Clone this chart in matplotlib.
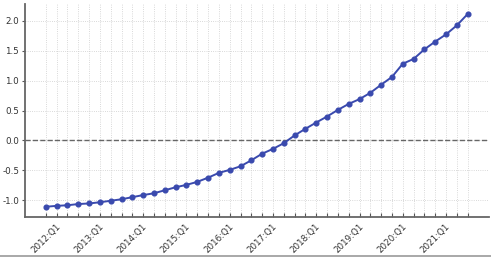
import matplotlib
matplotlib.use("Agg")
import matplotlib.pyplot as plt
from matplotlib.lines import Line2D

plt.rcParams["axes.unicode_minus"] = False

# kwartalen 2012Q1 - 2021Q4
years = list(range(2012, 2022))
quarters = [f"{y}:Q{q}" for y in years for q in range(1, 5)]

values = [-1.105, -1.09, -1.08, -1.06,
          -1.05, -1.03, -1.005, -0.98,
          -0.945, -0.91, -0.88, -0.83,
          -0.78, -0.74, -0.69, -0.62,
          -0.54, -0.49, -0.43, -0.33,
          -0.22, -0.14, -0.045, 0.085,
          0.195, 0.30, 0.40, 0.51,
          0.61, 0.69, 0.795, 0.93,
          1.06, 1.28, 1.36, 1.52,
          1.65, 1.77, 1.92, 2.11]

x = list(range(len(quarters)))

fig = plt.figure(figsize=(4.91, 2.57), dpi=100)
ax = fig.add_axes([0.0503, 0.157, 0.9452, 0.826])

ax.plot(x, values, color="#3a4aae", lw=1.4, marker="o", ms=3.4, zorder=3)
ax.axhline(0, color="#666666", lw=1.0, ls="--", zorder=2)

# ticks: elk kwartaal, label alleen bij Q1
ax.set_xticks(x)
ax.set_xticklabels([q if q.endswith("Q1") else "" for q in quarters],
                   rotation=45, ha="center", fontsize=6.3, color="#333333")
ax.tick_params(axis="x", direction="in", length=3, color="#555555", pad=4)
ax.tick_params(axis="y", direction="out", length=2.5, color="#555555",
               labelsize=6.3, labelcolor="#333333", pad=1.5)
ax.set_yticks([-1.0, -0.5, 0.0, 0.5, 1.0, 1.5, 2.0])

ax.grid(True, color="#cccccc", lw=0.6, ls=":")
ax.spines["top"].set_visible(False)
ax.spines["right"].set_visible(False)
for s in ["left", "bottom"]:
    ax.spines[s].set_color("#666666")
    ax.spines[s].set_linewidth(1.3)

ax.set_ylim(-1.27, 2.27)

# grijze lijn onderaan
fig.add_artist(Line2D([0, 1], [0.004, 0.004], color="#999999", lw=1.2, transform=fig.transFigure))

plt.savefig("out.png", dpi=100)
